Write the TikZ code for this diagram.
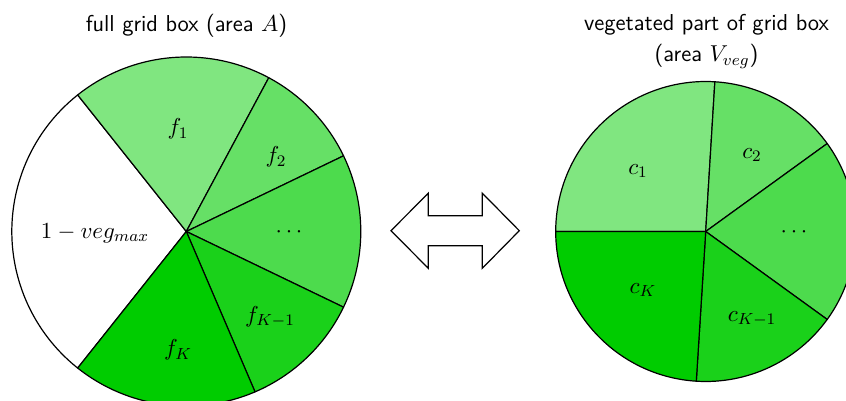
\RequirePackage{fix-cm}
\documentclass[tikz,border=0pt]{standalone}
\usetikzlibrary{calc}
\definecolor{gA}{RGB}{128,230,128}
\definecolor{gB}{RGB}{102,224,102}
\definecolor{gC}{RGB}{77,219,77}
\definecolor{gD}{RGB}{26,209,26}
\definecolor{gE}{RGB}{0,204,0}
\newcommand\pieslice[5]{\filldraw[slicestyle,fill=#5] (#1) -- ++(#3:#2) arc[start angle=#3, end angle=#4, radius=#2] -- cycle;}
\begin{document}
\begin{tikzpicture}[x=0.5pt,y=0.5pt,
  slicestyle/.style={draw=black,line width=0.6pt,line join=round},
  lab/.style={inner sep=0pt,font=\fontsize{11.5}{14}\selectfont},
  ttl/.style={inner sep=0pt,align=center,font=\sffamily\fontsize{11.5}{15.6}\selectfont},
  dblarrow/.style={draw=black,fill=white,line width=0.6pt,line join=miter}]
\useasboundingbox (0,0) rectangle (846,401);
\coordinate (L) at (186.3,169.5);
\coordinate (R) at (705.7,169.5);
% left pie
\pieslice{L}{174.5}{128.5}{231.5}{white}
\pieslice{L}{174.5}{61.8}{128.5}{gA}
\pieslice{L}{174.5}{25.7}{61.8}{gB}
\pieslice{L}{174.5}{-25.7}{25.7}{gC}
\pieslice{L}{174.5}{-66.8}{-25.7}{gD}
\pieslice{L}{174.5}{-128.5}{-66.8}{gE}
% right pie
\pieslice{R}{150}{86.5}{180}{gA}
\pieslice{R}{150}{35.9}{86.5}{gB}
\pieslice{R}{150}{-35.9}{35.9}{gC}
\pieslice{R}{150}{-93.6}{-35.9}{gD}
\pieslice{R}{150}{180}{266.4}{gE}
% labels left
\node[lab] (w) at (95,168) {$1-veg_{max}$};
\node[lab] (f1) at (178,272) {$f_1$};
\node[lab] (f2) at (276,244) {$f_2$};
\node[lab] (fd) at (289,169) {$\cdots$};
\node[lab] (fk1) at (270,84) {$f_{K-1}$};
\node[lab] (fk) at (178,51) {$f_K$};
% labels right
\node[lab] (c1) at (638,230) {$c_1$};
\node[lab] (c2) at (752,246) {$c_2$};
\node[lab] (cd) at (794,169) {$\cdots$};
\node[lab] (ck1) at (752,82) {$c_{K-1}$};
\node[lab] (ck) at (643,111) {$c_K$};
% titles
\node[ttl,anchor=base] (tl) at (186.4,369.3) {full grid box (area $A$)};
\node[ttl,anchor=north] (tr) at (706.5,387) {vegetated part of grid box\\(area $V_{veg}$)};
% double arrow
\coordinate (aL) at (391,170.3);
\coordinate (aR) at (519.3,170.3);
\draw[dblarrow] (aL) -- (428.3,207.8) -- (428.3,185.3) -- (482.3,185.3) -- (482.3,207.8)
  -- (aR) -- (482.3,132.7) -- (482.3,155.3) -- (428.3,155.3) -- (428.3,132.7) -- cycle;
\end{tikzpicture}
\end{document}
